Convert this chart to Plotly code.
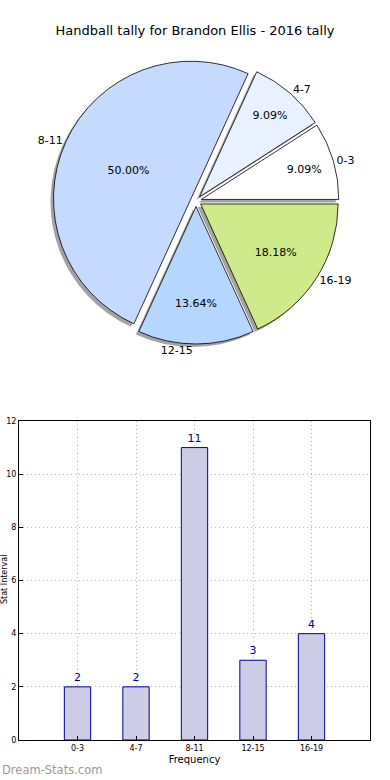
import plotly.graph_objects as go

categories = ["0-3", "4-7", "8-11", "12-15", "16-19"]
counts = [2, 2, 11, 3, 4]
slice_colors = ["#FFFFFF", "#EAF1FE", "#C6D9FE", "#B5D6FE", "#CFEA8A"]
y_ticks = [0, 2, 4, 6, 8, 10, 12]
title_text = "Handball tally for Brandon Ellis - 2016 tally"

W, H = 390, 780
FONT = "DejaVu Sans"

def px_x(p):
    return p / W

def px_y(p):
    return 1 - p / H

# plotly's counterclockwise pies end the first slice at `rotation`;
# shift so the first slice starts at 3 o'clock like the reference
rot = 90 - 360.0 * counts[0] / sum(counts)

cx, cy, half = 196, 201, 143
pie_dom_x = [px_x(cx - half), px_x(cx + half)]
pie_dom_y = [px_y(cy + half), px_y(cy - half)]
sh = 3
shadow_dom_x = [px_x(cx - half - sh), px_x(cx + half - sh)]
shadow_dom_y = [px_y(cy + half + sh), px_y(cy - half + sh)]
pulls = [0.04] * len(categories)

fig = go.Figure()

# shadow
fig.add_trace(go.Pie(
    labels=categories, values=counts, sort=False, direction="counterclockwise",
    rotation=rot, pull=pulls, domain=dict(x=shadow_dom_x, y=shadow_dom_y),
    marker=dict(colors=["#9A9A9A"] * len(categories), line=dict(color="#9A9A9A", width=0)),
    textinfo="none", hoverinfo="skip", showlegend=False, opacity=0.9,
))
# main pie
fig.add_trace(go.Pie(
    labels=categories, values=counts, sort=False, direction="counterclockwise",
    rotation=rot, pull=pulls, domain=dict(x=pie_dom_x, y=pie_dom_y),
    marker=dict(colors=slice_colors, line=dict(color="#000000", width=0.8)),
    texttemplate="%{percent:.2%}", textposition="inside", insidetextorientation="horizontal",
    textfont=dict(family=FONT, size=11, color="#000000"), showlegend=False,
))
# outside labels
fig.add_trace(go.Pie(
    labels=categories, values=counts, sort=False, direction="counterclockwise",
    rotation=rot, pull=[0.14] * len(categories), domain=dict(x=pie_dom_x, y=pie_dom_y),
    marker=dict(colors=["rgba(0,0,0,0)"] * len(categories), line=dict(width=0)),
    texttemplate="%{label}", textposition="outside",
    textfont=dict(family=FONT, size=11, color="#000000"), showlegend=False,
    hoverinfo="skip", automargin=False,
))

fig.add_trace(go.Bar(
    x=categories, y=counts, width=0.45,
    marker=dict(color="#CCCCE6", line=dict(color="#00008B", width=1)),
    text=[str(v) for v in counts], textposition="outside",
    textfont=dict(family=FONT, size=11, color="#00008B"), cliponaxis=False,
    showlegend=False, xaxis="x", yaxis="y",
))

fig.update_layout(
    width=W, height=H, margin=dict(l=0, r=0, t=0, b=0),
    paper_bgcolor="white", plot_bgcolor="white",
    font=dict(family=FONT, color="#000000"),
    title=dict(text=title_text, x=0.5, xanchor="center", y=px_y(30), yanchor="middle",
               font=dict(family=FONT, size=13, color="#000000")),
    xaxis=dict(domain=[px_x(19), px_x(370)], range=[-1, 5], type="category",
               showline=True, mirror=True, linecolor="#000000", linewidth=1,
               ticks="inside", ticklen=4, tickcolor="#000000",
               showgrid=True, gridcolor="#B8B8B8", griddash="1px,3px", gridwidth=1,
               tickfont=dict(family=FONT, size=8), automargin=False, layer="above traces",
               title=dict(text="Frequency", font=dict(family=FONT, size=10), standoff=4),
               anchor="y", zeroline=False),
    yaxis=dict(domain=[px_y(740), px_y(421)], range=[0, 12], tickvals=y_ticks,
               showline=True, mirror=True, linecolor="#000000", linewidth=1,
               ticks="inside", ticklen=4, tickcolor="#000000",
               showgrid=True, gridcolor="#B8B8B8", griddash="1px,3px", gridwidth=1,
               tickfont=dict(family=FONT, size=8), automargin=False, layer="above traces",
               anchor="x", zeroline=False),
    annotations=[
        dict(text="Stat Interval", textangle=-90, x=px_x(4), y=px_y(580), xref="paper", yref="paper",
             xanchor="center", yanchor="middle", showarrow=False, font=dict(family=FONT, size=8)),
        dict(text="Dream-Stats.com", x=0, y=px_y(770), xref="paper", yref="paper",
             xanchor="left", yanchor="middle", showarrow=False,
             font=dict(family=FONT, size=11.5, color="#999999")),
    ],
)

fig.write_html("out.html", config={"displayModeBar": False},
               post_script="document.body.style.margin='0px';")
